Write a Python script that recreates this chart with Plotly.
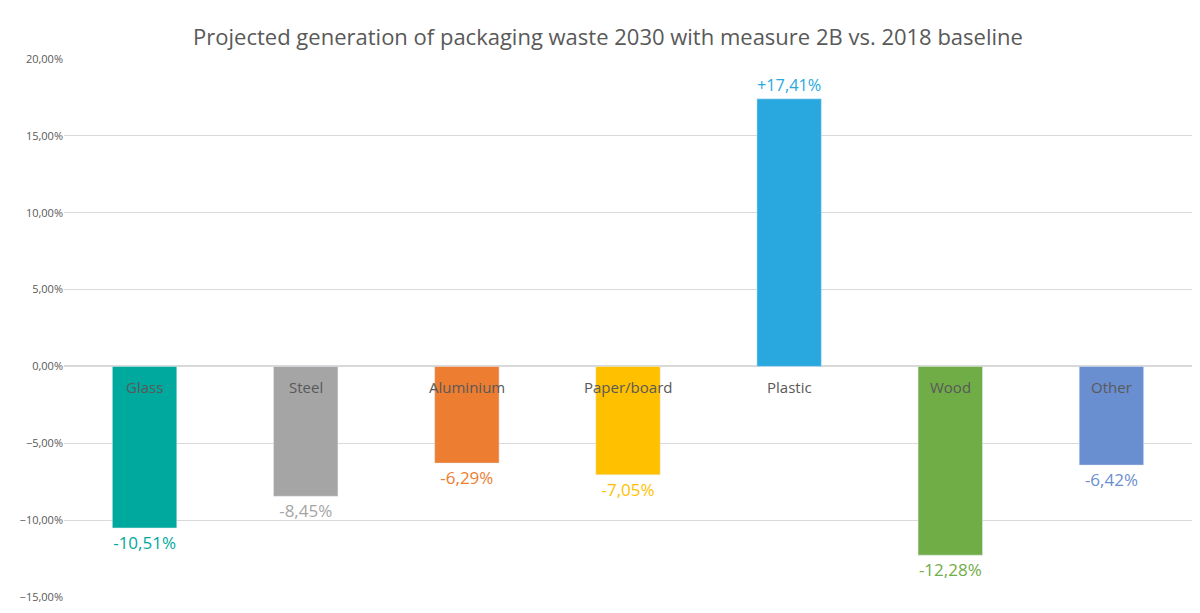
import plotly.graph_objects as go

### data
materials = ['Glass', 'Steel', 'Aluminium', 'Paper/board', 'Plastic', 'Wood', 'Other']
change = [-10.51, -8.45, -6.29, -7.05, 17.41, -12.28, -6.42]
colors = ['#00A99D', '#A5A5A5', '#ED7D31', '#FFC000', '#29A8E0', '#70AD47', '#6A8FD0']

labels = [('+' if v > 0 else '') + ('%.2f' % v).replace('.', ',') + '%' for v in change]

fig = go.Figure(go.Bar(
    x=materials, y=[v / 100 for v in change],
    marker_color=colors, width=0.4,
    text=labels, textposition='outside',
    textfont=dict(size=17, color=colors), cliponaxis=False,
    hoverinfo='skip'))

### category names sitting just under the zero line
for m in materials:
    fig.add_annotation(x=m, y=0, text=m, showarrow=False, yshift=-21,
                       font=dict(size=15, color='#595959'))

fig.update_layout(
    title=dict(text='Projected generation of packaging waste 2030 with measure 2B vs. 2018 baseline',
               x=0.5, y=0.965, font=dict(size=22, color='#595959')),
    font=dict(family='Open Sans, Noto Sans, sans-serif', color='#595959'),
    separators=', ',
    plot_bgcolor='white', paper_bgcolor='white',
    width=1200, height=613,
    margin=dict(l=54, r=16, t=51, b=24),
    showlegend=False,
    xaxis=dict(showticklabels=False, showline=False, showgrid=False, zeroline=False),
    yaxis=dict(range=[-0.15, 0.20], dtick=0.05, tickformat='.2%',
               gridcolor='#D9D9D9', zeroline=True, zerolinecolor='#D9D9D9',
               tickfont=dict(size=11, color='#595959')),
)

fig.write_html('out.html')
